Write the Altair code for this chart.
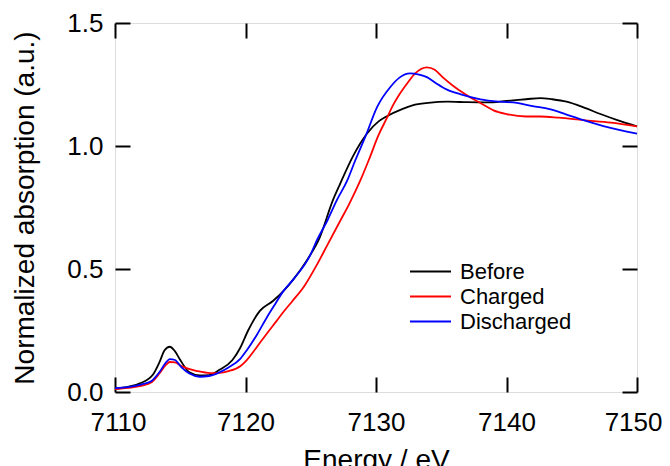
import altair as alt
import pandas as pd

# ---- data ----
before_e = [7110, 7110.4, 7111.9, 7112.9, 7113.4, 7113.8, 7114.2, 7114.6, 7115.0, 7115.7,
            7116.5, 7117.2, 7118.0, 7119.0, 7119.6, 7120.2, 7121.1, 7122.1, 7122.9, 7123.7,
            7124.7, 7125.7, 7126.7, 7127.2, 7128.2, 7129.3, 7130.2, 7130.8, 7132.0, 7132.8,
            7134.0, 7135.5, 7137.0, 7138.5, 7140.0, 7141.5, 7142.6, 7143.5, 7144.6, 7146.0,
            7147.2, 7148.5, 7150.0]
before_y = [0.014, 0.016, 0.035, 0.07, 0.12, 0.17, 0.184, 0.165, 0.13, 0.08,
            0.067, 0.068, 0.09, 0.13, 0.18, 0.25, 0.33, 0.37, 0.41, 0.46,
            0.535, 0.63, 0.78, 0.84, 0.955, 1.05, 1.10, 1.12, 1.15, 1.165,
            1.175, 1.18, 1.178, 1.177, 1.183, 1.19, 1.195, 1.19, 1.18, 1.155,
            1.13, 1.105, 1.08]

charged_e = [7110, 7111, 7112, 7112.8, 7113.4, 7113.9, 7114.2, 7114.6, 7115.1, 7115.6,
             7116.3, 7117.3, 7118.0, 7118.7, 7119.6, 7120.1, 7120.9, 7121.6, 7122.4, 7122.9,
             7123.6, 7124.5, 7125.5, 7126.3, 7127.2, 7128.0, 7128.8, 7129.5, 7130.2, 7130.8,
             7131.3, 7131.8, 7132.4, 7133.0, 7133.9, 7134.5, 7135.1, 7135.9, 7136.7, 7137.3,
             7138.0, 7139.0, 7140.0, 7141.5, 7142.6, 7144.0, 7145.9, 7148.0, 7150.0]
charged_y = [0.012, 0.017, 0.025, 0.04, 0.075, 0.11, 0.122, 0.12, 0.105, 0.095,
             0.085, 0.077, 0.078, 0.085, 0.105, 0.13, 0.185, 0.235, 0.29, 0.325,
             0.37, 0.43, 0.52, 0.60, 0.69, 0.77, 0.86, 0.95, 1.045, 1.11,
             1.165, 1.21, 1.255, 1.295, 1.32, 1.31, 1.28, 1.245, 1.215, 1.195,
             1.175, 1.145, 1.13, 1.12, 1.12, 1.115, 1.105, 1.095, 1.08]

discharged_e = [7110, 7111, 7112, 7112.8, 7113.4, 7113.9, 7114.2, 7114.6, 7115.1, 7115.7,
                7116.5, 7117.2, 7118.0, 7118.7, 7119.6, 7120.1, 7120.9, 7121.6, 7122.3, 7122.9,
                7123.7, 7124.9, 7125.5, 7126.3, 7127.0, 7127.8, 7128.4, 7129.2, 7130.1, 7131.1,
                7131.8, 7132.6, 7133.3, 7133.9, 7134.6, 7135.4, 7136.5, 7138.0, 7139.5, 7140.8,
                7142.0, 7143.3, 7144.5, 7145.9, 7147.5, 7150.0]
discharged_y = [0.016, 0.02, 0.03, 0.045, 0.08, 0.12, 0.134, 0.13, 0.10, 0.075,
                0.062, 0.065, 0.08, 0.10, 0.135, 0.17, 0.235, 0.30, 0.36, 0.41,
                0.46, 0.55, 0.62, 0.70, 0.78, 0.86, 0.94, 1.04, 1.16, 1.24,
                1.278, 1.295, 1.29, 1.28, 1.255, 1.23, 1.21, 1.19, 1.18, 1.175,
                1.162, 1.15, 1.13, 1.105, 1.08, 1.05]

series_names = ["Before", "Charged", "Discharged"]
series_colors = ["#000000", "#ff0000", "#0000ff"]
x_ticks = [7110, 7120, 7130, 7140, 7150]
y_ticks = [0.0, 0.5, 1.0, 1.5]

rows = []
for name, es, ys in [("Before", before_e, before_y),
                     ("Charged", charged_e, charged_y),
                     ("Discharged", discharged_e, discharged_y)]:
    for i, (e, v) in enumerate(zip(es, ys)):
        rows.append({"Energy": e, "Absorption": v, "Series": name, "order": i})
df = pd.DataFrame(rows)

FONT = "Liberation Sans"
TICK = 15

xscale = alt.Scale(domain=[7110, 7150], nice=False, zero=False)
yscale = alt.Scale(domain=[0, 1.5], nice=False, zero=False)

lines = alt.Chart(df).mark_line(strokeWidth=1.8, interpolate="monotone").encode(
    x=alt.X("Energy:Q", scale=xscale, title="Energy / eV",
            axis=alt.Axis(values=x_ticks, format="d", domain=False, grid=False,
                          tickSize=TICK, offset=-TICK, tickColor="black", tickWidth=2,
                          labelFontSize=26, labelFont=FONT, labelColor="black",
                          labelPadding=17, labelFlush=True, labelFlushOffset=25,
                          titleFontSize=28, titleFont=FONT, titleFontWeight="normal",
                          titleColor="black", titlePadding=11)),
    y=alt.Y("Absorption:Q", scale=yscale, title="Normalized absorption (a.u.)",
            axis=alt.Axis(values=y_ticks, format=".1f", domain=False, grid=False,
                          tickSize=TICK, offset=-TICK, tickColor="black", tickWidth=2,
                          labelFontSize=26, labelFont=FONT, labelColor="black",
                          labelPadding=12, labelFlush=False,
                          titleFontSize=28, titleFont=FONT, titleFontWeight="normal",
                          titleColor="black", titlePadding=27)),
    color=alt.Color("Series:N",
                    scale=alt.Scale(domain=series_names, range=series_colors),
                    legend=alt.Legend(title=None, orient="none", legendX=294, legendY=236,
                                      symbolType="stroke", symbolSize=1681,
                                      symbolStrokeWidth=1.8, labelFontSize=22,
                                      labelFont=FONT, labelColor="black",
                                      labelOffset=8, clipHeight=25, rowPadding=0,
                                      padding=0)),
    order="order:Q",
)

tick_df = pd.DataFrame({"Energy": x_ticks, "Absorption": y_ticks + [1.5]})
frame = alt.Chart(tick_df).mark_point(opacity=0).encode(
    x=alt.X("Energy:Q", scale=xscale,
            axis=alt.Axis(orient="top", values=x_ticks, labels=False, title=None,
                          domain=False, grid=False, tickSize=TICK, offset=-TICK,
                          tickColor="black", tickWidth=2)),
    y=alt.Y("Absorption:Q", scale=yscale,
            axis=alt.Axis(orient="right", values=y_ticks, labels=False, title=None,
                          domain=False, grid=False, tickSize=TICK, offset=-TICK,
                          tickColor="black", tickWidth=2)),
)

chart = alt.layer(lines, frame).resolve_axis(x="independent", y="independent").properties(
    width=522, height=369,
    padding={"left": 107, "top": 15, "right": 25, "bottom": 74},
    autosize=alt.AutoSizeParams(type="none"),
).configure_view(stroke="black", strokeWidth=2).configure(background="white")

chart.save("out.html", embed_options={"renderer": "svg", "actions": False})
